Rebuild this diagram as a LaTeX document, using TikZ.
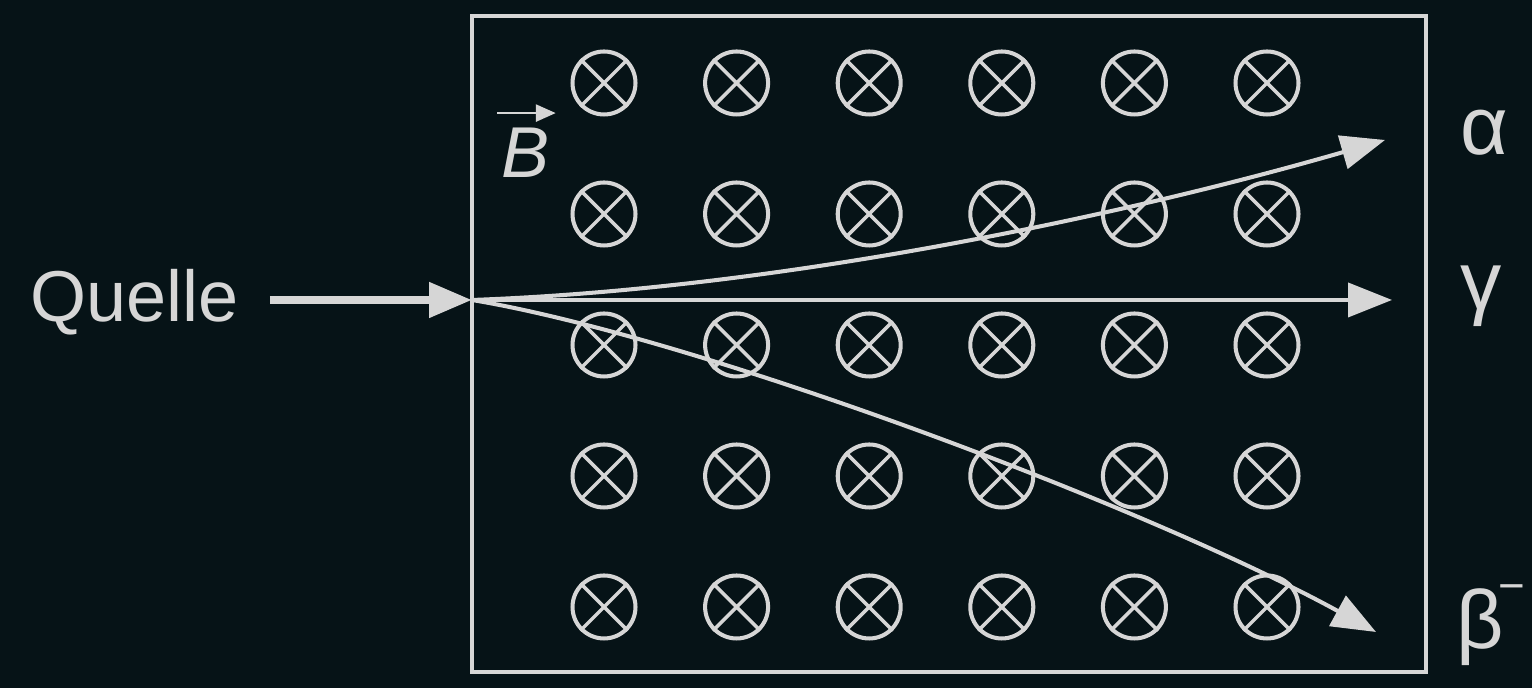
\documentclass[tikz,border=0pt]{standalone}
\usepackage{fontspec}
\setmainfont{Liberation Sans}
\usetikzlibrary{arrows.meta,calc}
\definecolor{board}{HTML}{061317}
\definecolor{chalk}{HTML}{D6D6D6}

\begin{document}
\begin{tikzpicture}[
  every node/.style={text=chalk,inner sep=0pt},
  field/.style={circle,draw=chalk,line width=2.3pt,minimum size=1.26cm},
  cross/.style={draw=chalk,line width=2pt},
  ray/.style={draw=chalk,line width=2.3pt,-{Triangle[length=0.88cm,width=0.68cm]}},
  feed/.style={draw=chalk,line width=4.5pt,-{Triangle[length=0.86cm,width=0.68cm]}},
  vec/.style={draw=chalk,line width=1.6pt,-{Triangle[length=0.4cm,width=0.34cm]}}
]
\begin{scope}[x=0.02cm,y=0.02cm]

    % Tafel
    \fill[board] (0,0) rectangle (1532,688);
    \useasboundingbox (0,0) rectangle (1532,688);

    % Magnetfeld, in die Ebene hinein
    \draw[chalk,line width=2.8pt] (472,16) rectangle (1426,672);
    \foreach \i in {0,...,5}
      \foreach \j in {0,...,4} {
        \node[field] (c-\i-\j) at ({604+132.6*\i},{605-131*\j}) {};
        \draw[cross] (c-\i-\j.45) -- (c-\i-\j.225) (c-\i-\j.135) -- (c-\i-\j.-45);
      }

    \node[anchor=base west,font=\fontsize{41}{48}\selectfont\itshape] (bfield) at (501,510) {B};
    \draw[vec] ($(bfield.north west)+(-4,15)$) -- ($(bfield.north east)+(6,15)$);

    % Quelle und Strahlen
    \node[anchor=base west,font=\fontsize{41}{48}\selectfont] (quelle) at (30,366) {Quelle};
    \coordinate (src) at (472,388);
    \coordinate (atip) at (1385,548);
    \coordinate (gtip) at (1392,388);
    \coordinate (btip) at (1376,56);

    \node[anchor=base west,font=\fontsize{47}{54}\selectfont] (alpha) at (1460,533) {α};
    \node[anchor=base west,font=\fontsize{47}{54}\selectfont] (gamma) at (1460,378) {γ};
    \node[anchor=base west,font=\fontsize{47}{54}\selectfont] (beta) at (1456,39)
      {β\kern-3pt\raisebox{27pt}{\fontsize{26}{26}\selectfont −}};

    \draw[feed,shorten <=0.62cm] (quelle.east |- src) -- (src);
    \draw[ray] (src) -- (gtip);
    \draw[ray] (src) .. controls (800,400) and (1150,480) .. (atip);
    \draw[ray] (src) .. controls (700,350) and (1150,180) .. (btip);

\end{scope}
\end{tikzpicture}
\end{document}
